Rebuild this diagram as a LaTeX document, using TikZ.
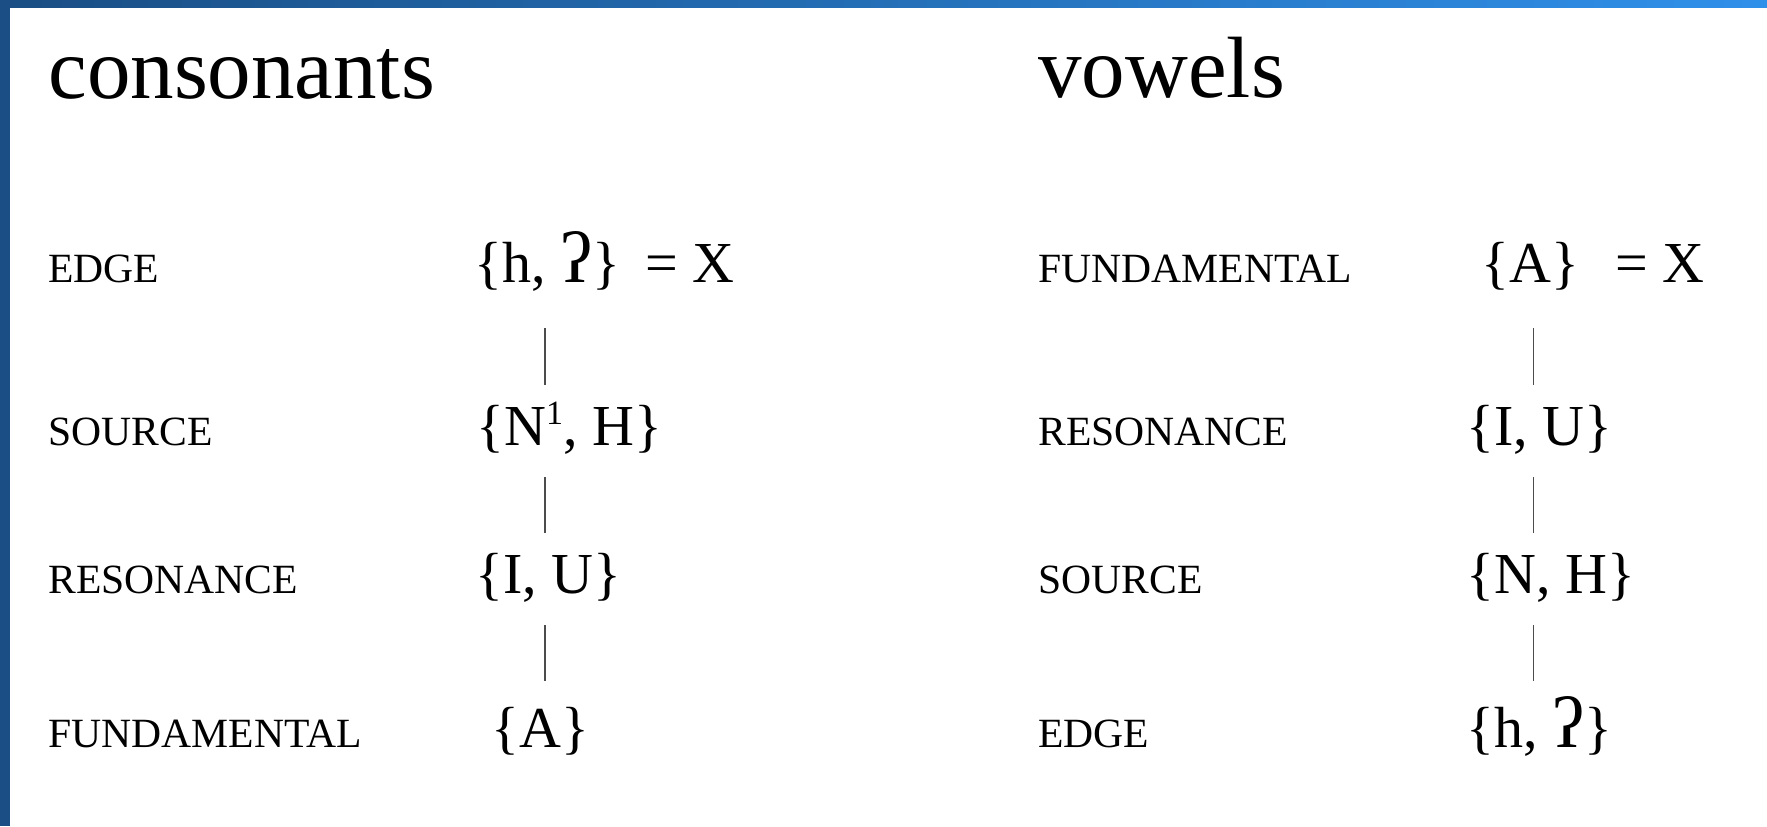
\documentclass[tikz,border=0pt]{standalone}
\usepackage{fontspec}
\setmainfont{Liberation Serif}
\usepackage{xcolor}
\definecolor{barblue}{RGB}{26,78,132}
\definecolor{barlight}{RGB}{47,144,234}
\usetikzlibrary{positioning}
\newcommand{\glottal}{{\fontsize{36}{36}\selectfont ʔ}}

\begin{document}
\begin{tikzpicture}[x=0.5pt,y=-0.5pt,
  tiertitle/.style={anchor=base west,inner sep=0pt,font=\fontsize{43.5}{50}\selectfont},
  tierlabel/.style={anchor=base west,inner sep=0pt,font=\fontsize{20.8}{24}\selectfont},
  tierset/.style={anchor=base west,inner sep=0pt,text height=21pt,text depth=7pt,
    font=\fontsize{29}{34}\selectfont},
  tierlink/.style={draw=black!70,line width=0.7pt,shorten <=9pt,shorten >=9pt}
]
  \useasboundingbox (0,0) rectangle (1767,826);
  \fill[white] (0,0) rectangle (1767,826);
  \shade[left color=barblue,right color=barlight] (0,0) rectangle (1767,7);
  \fill[barblue] (0,0) rectangle (9.5,826);

  % consonants
  \node[tiertitle] (ctitle) at (48,98) {consonants};
  \node[tierlabel] (clab1) at (48,282) {EDGE};
  \node[tierlabel] (clab2) at (48,445) {SOURCE};
  \node[tierlabel] (clab3) at (48,593) {RESONANCE};
  \node[tierlabel] (clab4) at (48,747) {FUNDAMENTAL};
  \node[tierset] (cset1) at (474,282) {\{h, \glottal\}};
  \node[tierset] (ceq) at (645,282) {= X};
  \node[tierset] (cset2) at (476,445) {\{N\raisebox{0.36em}{\fontsize{17}{17}\selectfont 1}, H\}};
  \node[tierset] (cset3) at (475,593) {\{I, U\}};
  \node[tierset] (cset4) at (491,747) {\{A\}};
  \coordinate (cstem) at ([xshift=2.5pt]cset4.north);
  \draw[tierlink,shorten <=16pt] (cset1.south -| cstem) -- (cset2.north -| cstem);
  \draw[tierlink] (cset2.south -| cstem) -- (cset3.north -| cstem);
  \draw[tierlink,shorten >=12pt] (cset3.south -| cstem) -- (cstem);

  % vowels
  \node[tiertitle] (vtitle) at (1038,97) {vowels};
  \node[tierlabel] (vlab1) at (1038,282) {FUNDAMENTAL};
  \node[tierlabel] (vlab2) at (1038,445) {RESONANCE};
  \node[tierlabel] (vlab3) at (1038,593) {SOURCE};
  \node[tierlabel] (vlab4) at (1038,747) {EDGE};
  \node[tierset] (vset1) at (1481,282) {\{A\}};
  \node[tierset] (veq) at (1615,282) {= X};
  \node[tierset] (vset2) at (1466,445) {\{I, U\}};
  \node[tierset] (vset3) at (1466,593) {\{N, H\}};
  \node[tierset] (vset4) at (1466,747) {\{h, \glottal\}};
  \coordinate (vstem) at ([xshift=1.5pt]vset1.south);
  \draw[tierlink,shorten <=16pt] (vstem) -- (vset2.north -| vstem);
  \draw[tierlink] (vset2.south -| vstem) -- (vset3.north -| vstem);
  \draw[tierlink,shorten >=12pt] (vset3.south -| vstem) -- (vset4.north -| vstem);
\end{tikzpicture}
\end{document}
